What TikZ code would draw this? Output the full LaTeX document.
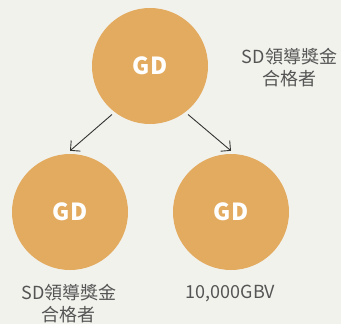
\documentclass[tikz,border=0pt]{standalone}
\usepackage{fontspec}
\setmainfont{Noto Sans CJK TC}
\usetikzlibrary{arrows.meta}
\definecolor{bgc}{HTML}{F2F2ED}
\definecolor{circc}{HTML}{E3AB5F}
\definecolor{txtc}{HTML}{555555}
\definecolor{arrc}{HTML}{333333}
\tikzset{
  gdcircle/.style={circle, fill=circc, minimum size=116pt, inner sep=0pt,
    text=white, font=\fontsize{23.5}{26}\selectfont\bfseries},
  lbl/.style={text=txtc, align=center, inner sep=0pt,
    font=\fontsize{18}{22}\selectfont},
  conn/.style={draw=arrc, line width=0.9pt, -{Straight Barb[length=7pt,width=14pt]}}
}
\begin{document}
\begin{tikzpicture}[x=1pt,y=-1pt]
\fill[bgc] (0,0) rectangle (341,324);
\useasboundingbox (0,0) rectangle (341,324);
\node[gdcircle] (top) at (150,66) {GD};
\node[gdcircle] (bl) at (70,212) {GD};
\node[gdcircle] (br) at (231,212) {GD};
\node[lbl] (ltop) at (289.5,67.5) {SD領導獎金\\合格者};
\node[lbl] (lbl1) at (69,304) {SD領導獎金\\合格者};
\node[lbl] (lbr) at (230.5,293.5) {10,000GBV};
\coordinate (lend) at ([yshift=3pt]bl.north);
\coordinate (rend) at ([yshift=3pt]br.north);
\draw[conn] ([shift={(-3pt,-2pt)}]top.233) -- (lend);
\draw[conn] ([shift={(3pt,-2pt)}]top.307) -- (rend);
\end{tikzpicture}
\end{document}
